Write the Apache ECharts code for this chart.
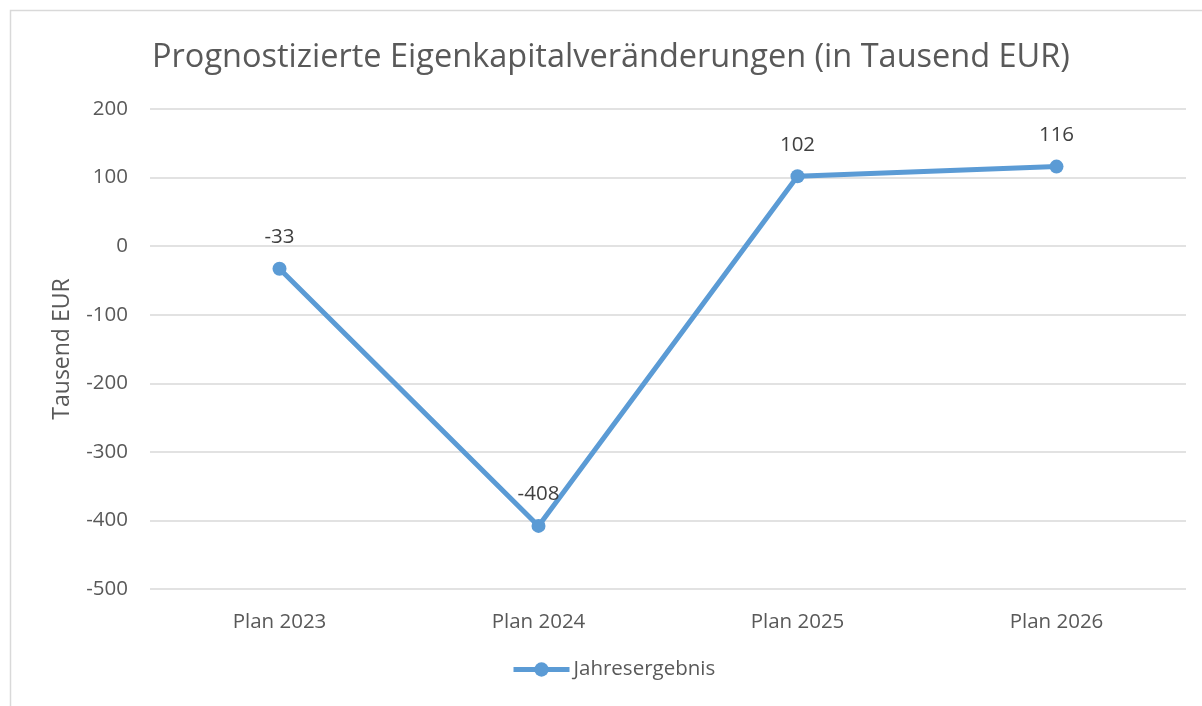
<!DOCTYPE html>
<html><head><meta charset="utf-8">
<script src="https://cdn.jsdelivr.net/npm/echarts@6/dist/echarts.min.js"></script>
<style>html,body{margin:0;padding:0;background:#fff}#c{width:1202px;height:706px}</style>
</head><body><div id="c"></div>
<script>
const categories = ['Plan 2023', 'Plan 2024', 'Plan 2025', 'Plan 2026'];
const jahresergebnis = [-33, -408, 102, 116];
const seriesName = 'Jahresergebnis';
const titleText = 'Prognostizierte Eigenkapitalveränderungen (in Tausend EUR)';
const yAxisName = 'Tausend EUR';

const font = '"Open Sans", "Noto Sans", sans-serif';
const chart = echarts.init(document.getElementById('c'), null, {renderer: 'canvas'});
chart.setOption({
  animation: false,
  backgroundColor: '#fff',
  graphic: [{type: 'rect', shape: {x: 10.5, y: 10.5, width: 1300, height: 800}, style: {fill: 'none', stroke: '#d9d9d9', lineWidth: 1.5}, silent: true}],
  title: {text: titleText, left: 147, top: 36, textStyle: {fontFamily: font, fontSize: 32.5, fontWeight: 'normal', color: '#595959'}},
  legend: {data: [seriesName], bottom: 21, left: 506, itemWidth: 56, itemHeight: 18, itemGap: 4,
    lineStyle: {width: 5},
    textStyle: {fontFamily: font, fontSize: 20.5, color: '#595959', padding: [0, 0, 0, -1]}},
  grid: {left: 150, right: 16, top: 109, bottom: 117},
  xAxis: {type: 'category', data: categories, boundaryGap: true,
    axisLine: {show: false}, axisTick: {show: false},
    axisLabel: {fontFamily: font, fontSize: 20.5, color: '#595959', margin: 23}},
  yAxis: {type: 'value', min: -500, max: 200, interval: 100,
    name: yAxisName, nameLocation: 'middle', nameGap: 76, nameRotate: 90,
    nameTextStyle: {fontFamily: font, fontSize: 23, color: '#595959'},
    axisLine: {show: false}, axisTick: {show: false},
    axisLabel: {fontFamily: font, fontSize: 20.5, color: '#595959', margin: 22},
    splitLine: {lineStyle: {color: '#d9d9d9', width: 1.5}}},
  series: [{name: seriesName, type: 'line', data: jahresergebnis,
    symbol: 'circle', symbolSize: 14,
    lineStyle: {color: '#5b9bd5', width: 5},
    itemStyle: {color: '#5b9bd5'},
    label: {show: true, position: 'top', distance: 14, fontFamily: font, fontSize: 20.5, color: '#404040'}}]
});
</script></body></html>
